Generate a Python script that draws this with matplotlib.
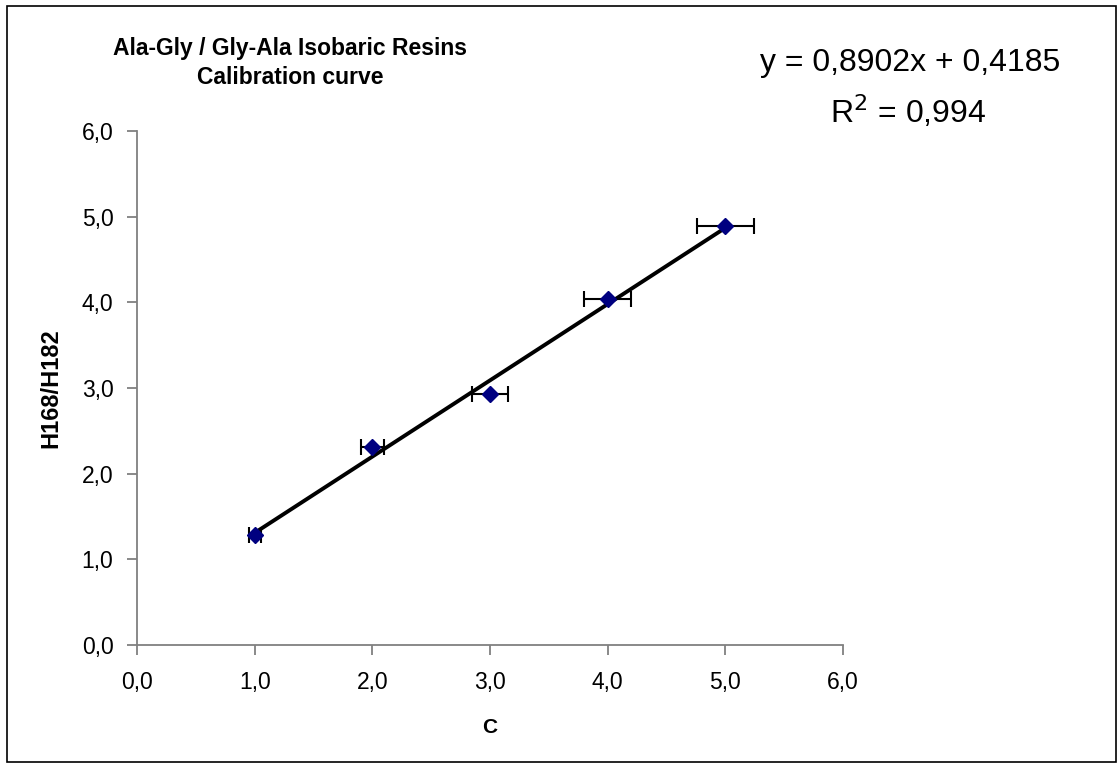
import numpy as np
import matplotlib
matplotlib.use("Agg")
import matplotlib.pyplot as plt
from matplotlib.patches import Rectangle
from matplotlib.ticker import FuncFormatter

plt.rcParams['font.family'] = ['Liberation Sans', 'DejaVu Sans']

# data
conc = [1.0, 2.0, 3.0, 4.0, 5.0]
ratio = [1.28, 2.31, 2.93, 4.04, 4.89]
conc_err = [0.05, 0.10, 0.15, 0.20, 0.245]
slope, intercept = 0.8902, 0.4185
r2 = 0.994

fig = plt.figure(figsize=(11.19, 7.64), dpi=100)
ax = fig.add_axes([137 / 1119, 1 - 645 / 764, (843 - 137) / 1119, (645 - 131) / 764])

# trendline over the data range
xt = np.array([min(conc), max(conc)])
ax.plot(xt, slope * xt + intercept, color="black", lw=2.8, zorder=2)

ax.errorbar(conc, ratio, xerr=conc_err, fmt="none", ecolor="black",
            elinewidth=1.5, capsize=6, capthick=1.5, zorder=3)
ax.plot(conc, ratio, ls="none", marker="D", ms=8, color="#000080",
        mec="#000080", zorder=4)

ax.set_xlim(0, 6)
ax.set_ylim(0, 6)
ax.set_xticks(np.arange(0, 7, 1))
ax.set_yticks(np.arange(0, 7, 1))
fmt = FuncFormatter(lambda v, p: f"{v:.1f}".replace(".", ","))
ax.xaxis.set_major_formatter(fmt)
ax.yaxis.set_major_formatter(fmt)

for side in ("top", "right"):
    ax.spines[side].set_visible(False)
for side in ("left", "bottom"):
    ax.spines[side].set_color("#808080")
    ax.spines[side].set_linewidth(1.3)
ax.tick_params(direction="out", length=7, width=1.3, color="#808080",
               labelsize=16.5)
ax.tick_params(axis="x", pad=12)
ax.tick_params(axis="y", pad=10)

ax.set_xlabel("C", fontsize=15, fontweight="bold", labelpad=17)
ax.set_ylabel("H168/H182", fontsize=17, fontweight="bold", labelpad=14)

fig.text(290 / 1119, 1 - 48 / 764, "Ala-Gly / Gly-Ala Isobaric Resins",
         ha="center", va="center", fontsize=16.5, fontweight="bold")
fig.text(290 / 1119, 1 - 77 / 764, "Calibration curve",
         ha="center", va="center", fontsize=16.5, fontweight="bold")

eq = f"y = {slope:.4f}x + {intercept:.4f}".replace(".", ",")
fig.text(910 / 1119, 1 - 63 / 764, eq, ha="center", va="center", fontsize=23)
fig.text(908 / 1119, 1 - 112 / 764, f"R$^2$ = {r2:.3f}".replace(".", ","),
         ha="center", va="center", fontsize=23)

fig.patches.append(Rectangle((7 / 1119, 2 / 764), 1109 / 1119, 756 / 764,
                             transform=fig.transFigure, fill=False,
                             ec="black", lw=1.2))

fig.savefig("out.png", dpi=100)
